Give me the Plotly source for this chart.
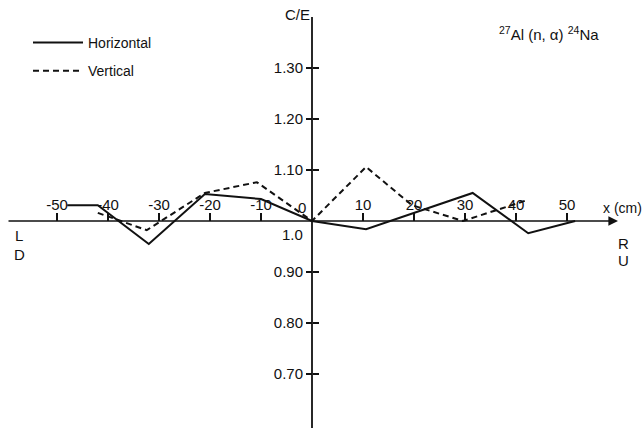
import plotly.graph_objects as go

# ---- data ----
horiz_x = [-48, -42, -32, -21, -10, 0, 10.6, 31.5, 42.4, 51.6]
horiz_y = [1.031, 1.031, 0.955, 1.053, 1.043, 1.0, 0.984, 1.055, 0.976, 1.0]
vert_x = [-42, -32.4, -21, -10.8, 0, 10.6, 19.6, 29.6, 42.2]
vert_y = [1.016, 0.982, 1.055, 1.076, 1.0, 1.106, 1.031, 1.0, 1.041]
x_tickvals = [-50, -40, -30, -20, -10, 10, 20, 30, 40, 50]
x_ticktext = ["-50", "-40", "-30", "-20", "-10", "10", "20", "30", "40", "50"]
y_tickvals = [1.30, 1.20, 1.10, 0.90, 0.80, 0.70]
y_ticktext = ["1.30", "1.20", "1.10", "0.90", "0.80", "0.70"]

W, H = 642, 428
X0PX, Y1PX, XS, YS = 312, 221, 5.1, 510.0
def X(p):
    return (p - X0PX) / XS
def Y(p):
    return 1 + (Y1PX - p) / YS

FONT = "Liberation Sans, Arial, sans-serif"
INK = "#111111"

fig = go.Figure()
fig.add_trace(go.Scatter(x=horiz_x, y=horiz_y, mode="lines", name="Horizontal",
                         line=dict(color=INK, width=2), legendgroup="a"))
fig.add_trace(go.Scatter(x=vert_x, y=vert_y, mode="lines", name="Vertical",
                         line=dict(color=INK, width=2, dash="6px,4px"), legendgroup="b"))
# invisible trace for inside y ticks
fig.add_trace(go.Scatter(x=[0], y=[1], yaxis="y2", mode="markers",
                         marker=dict(opacity=0), showlegend=False, hoverinfo="skip"))

fig.update_layout(
    width=W, height=H, autosize=False,
    margin=dict(l=0, r=0, t=0, b=0),
    paper_bgcolor="white", plot_bgcolor="white",
    font=dict(family=FONT, size=14, color=INK),
    showlegend=True,
    legend=dict(x=28 / W, y=1 - 27 / H, xanchor="left", yanchor="top",
                bgcolor="rgba(0,0,0,0)", tracegroupgap=7,
                font=dict(family=FONT, size=14, color=INK), itemwidth=50),
    xaxis=dict(range=[X(0), X(W)], domain=[0, 1], anchor="free", position=(H - Y1PX) / H,
               side="top", showline=False, showgrid=False, zeroline=False,
               ticks="outside", ticklen=8, tickwidth=1.5, tickcolor=INK,
               tickvals=x_tickvals, ticktext=x_ticktext, ticklabelstandoff=-3,
               tickfont=dict(family=FONT, size=15, color=INK)),
    yaxis=dict(range=[Y(H), Y(0)], domain=[0, 1], anchor="free", position=X0PX / W,
               side="left", showline=False, showgrid=False, zeroline=False,
               ticks="outside", ticklen=6, tickwidth=1.5, tickcolor=INK,
               tickvals=y_tickvals, ticktext=y_ticktext,
               tickfont=dict(family=FONT, size=15, color=INK)),
    yaxis2=dict(range=[Y(H), Y(0)], overlaying="y", anchor="free", position=X0PX / W,
                side="left", showline=False, showgrid=False, zeroline=False,
                ticks="inside", ticklen=6, tickwidth=1.5, tickcolor=INK,
                tickvals=y_tickvals, showticklabels=False),
)

# axis lines
fig.add_shape(type="line", x0=0, x1=0, y0=Y(17), y1=Y(H), line=dict(color=INK, width=1.8))
fig.add_annotation(x=X(618), y=1.0, ax=X(7), ay=1.0, xref="x", yref="y", axref="x", ayref="y",
                   showarrow=True, arrowhead=2, arrowsize=1.2, arrowwidth=1.6, arrowcolor=INK, text="")

def txt(s, px, py, size=15, anchor="center"):
    fig.add_annotation(text=s, x=px / W, y=1 - py / H, xref="paper", yref="paper",
                       showarrow=False, xanchor=anchor, yanchor="middle",
                       font=dict(family=FONT, size=size, color=INK))

txt("C/E", 297, 15)
txt("0", 302, 207)
txt("1.0", 292, 234)
txt("x (cm)", 622, 208, size=14)
txt("L", 19, 236)
txt("D", 19, 254)
txt("R", 623, 243)
txt("U", 623, 260)
txt("<sup>27</sup>Al (n, α) <sup>24</sup>Na", 549, 33, size=15)

fig.write_html("out.html")
